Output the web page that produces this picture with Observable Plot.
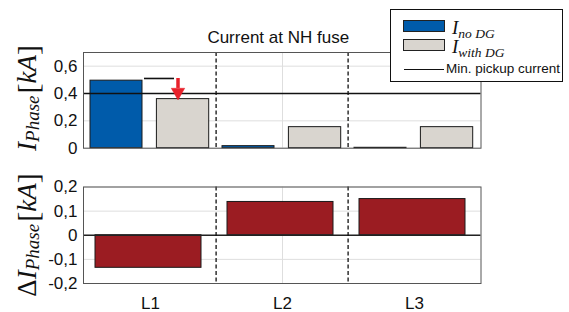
<!DOCTYPE html>
<html>
<head>
<meta charset="utf-8">
<script src="https://cdn.jsdelivr.net/npm/d3@7"></script>
<script src="https://cdn.jsdelivr.net/npm/@observablehq/plot@0.6"></script>
<style>
  body { margin: 0; background: #fff; }
  #wrap { position: relative; width: 569px; height: 312px; overflow: hidden; font-family: "Liberation Sans", Arial, sans-serif; }
  #legend { position: absolute; left: 390px; top: 9px; width: 173px; height: 73px; box-sizing: border-box; border: 1px solid #111; background: #fff; }
  .sw { position: absolute; left: 12px; width: 42px; height: 12px; box-sizing: border-box; border: 1px solid #222; }
  .lt { position: absolute; left: 61px; font-family: "Liberation Serif", "DejaVu Serif", serif; font-style: italic; font-size: 19px; line-height: 19px; color: #111; white-space: nowrap; }
  .lt sub { font-size: 13.5px; vertical-align: -4px; }
  .ln { position: absolute; left: 13px; top: 59px; width: 40px; height: 0; border-top: 1.6px solid #111; }
  .lm { position: absolute; left: 55px; top: 51px; font-size: 13.5px; color: #111; white-space: nowrap; }
</style>
</head>
<body>
<div id="wrap">
  <div id="topPanel"></div>
  <div id="bottomPanel"></div>
  <div id="legend">
    <div class="sw" style="top:10px; background:#005baa;"></div>
    <div class="lt" style="top:8px;">I<sub>no DG</sub></div>
    <div class="sw" style="top:29px; background:#d9d5cf;"></div>
    <div class="lt" style="top:27px;">I<sub>with DG</sub></div>
    <div class="ln"></div>
    <div class="lm">Min. pickup current</div>
  </div>
</div>
<script>
const phases = ["L1", "L2", "L3"];
const currentNoDG = [0.494, 0.015, 0.003];
const currentWithDG = [0.359, 0.154, 0.154];
const deltaCurrent = [-0.135, 0.138, 0.150];
const minPickup = 0.4;
const markerLevel = [0.51];          // short black marker above L1 (with DG)
const arrowFrom = 0.51, arrowHeadStart = 0.437, arrowHeadCenter = 0.41;
const topTicks = [0, 0.2, 0.4, 0.6];
const bottomTicks = [-0.2, -0.1, 0, 0.1, 0.2];
const chartTitle = "Current at NH fuse";

const blue = "#005baa", grey = "#d9d5cf", dark = "#9b1c22", red = "#e8212b";
const gridColor = "#dedede";
const fmt = d => d === 0 ? "0" : d.toFixed(1).replace(".", ",");

const noTable = phases.map((p, i) => ({phase: p, value: currentNoDG[i]}));
const withTable = phases.map((p, i) => ({phase: p, value: currentWithDG[i]}));
const deltaTable = phases.map((p, i) => ({phase: p, value: deltaCurrent[i]}));

const ML = 83, MR = 88.5;
const FS = 17;
const sepStyle = {dx: -66.4, stroke: "#111", strokeWidth: 1.3, strokeDasharray: "4,2.5"};
const font = {fontFamily: "'Liberation Sans', Arial, sans-serif", fontSize: FS + "px", color: "#111", background: "#fff"};

const topChart = Plot.plot({
  width: 569, height: 160,
  marginLeft: ML, marginRight: MR, marginTop: 52, marginBottom: 12.3,
  style: font,
  x: {domain: phases, padding: 0, axis: null},
  y: {domain: [0, 0.7], axis: null},
  marks: [
    Plot.ruleY(topTicks, {stroke: gridColor}),
    Plot.ruleX(["L2"], {stroke: gridColor}),
    Plot.barY(noTable, {x: "phase", y: "value", fill: blue, stroke: "#1a1a1a", strokeWidth: 1, insetLeft: 6, insetRight: 74}),
    Plot.barY(withTable, {x: "phase", y: "value", fill: grey, stroke: "#1a1a1a", strokeWidth: 1, insetLeft: 72.4, insetRight: 7.3}),
    Plot.ruleY([minPickup], {stroke: "#111", strokeWidth: 1.6}),
    Plot.tickY(markerLevel.map(v => ({phase: "L1", value: v})), {x: "phase", y: "value", stroke: "#111", strokeWidth: 1.6, insetLeft: 60, insetRight: 42}),
    Plot.ruleX([{phase: "L1", y1: arrowFrom, y2: arrowHeadStart}], {x: "phase", y1: "y1", y2: "y2", dx: 27.5, stroke: red, strokeWidth: 3.5}),
    Plot.dot([{phase: "L1", y: arrowHeadCenter}], {x: "phase", y: "y", dx: 27.5, symbol: "triangle", rotate: 180, r: 5, fill: red, stroke: red, strokeWidth: 0.5}),
    Plot.ruleX(["L2", "L3"], sepStyle),
    Plot.frame({stroke: "#555"}),
    Plot.axisY({ticks: topTicks, tickSize: 0, tickPadding: 6, tickFormat: fmt, fontSize: FS, label: null}),
    Plot.text([chartTitle], {frameAnchor: "top", lineAnchor: "middle", dy: -15, dx: -4, fontSize: FS, fill: "#111"})
  ]
});

const bottomChart = Plot.plot({
  width: 569, height: 152,
  marginLeft: ML, marginRight: MR, marginTop: 26.5, marginBottom: 29,
  style: font,
  x: {domain: phases, padding: 0, axis: null},
  y: {domain: [-0.2, 0.2], axis: null},
  marks: [
    Plot.ruleY(bottomTicks, {stroke: gridColor}),
    Plot.ruleX(["L2"], {stroke: gridColor}),
    Plot.barY(deltaTable, {x: "phase", y: "value", fill: dark, stroke: "#1a1a1a", strokeWidth: 1, insetLeft: 11, insetRight: 15}),
    Plot.ruleY([0], {stroke: "#222", strokeWidth: 1.3}),
    Plot.ruleX(["L2", "L3"], sepStyle),
    Plot.frame({stroke: "#555"}),
    Plot.axisY({ticks: bottomTicks, tickSize: 0, tickPadding: 6, tickFormat: fmt, fontSize: FS, label: null}),
    Plot.axisX({tickSize: 0, tickPadding: 13, fontSize: FS, label: null})
  ]
});

function addLabel(svg, cx, cy, delta) {
  const t = d3.select(svg).append("text")
    .attr("transform", `translate(${cx},${cy}) rotate(-90)`)
    .attr("text-anchor", "middle")
    .attr("dominant-baseline", "central")
    .attr("font-family", "'Liberation Serif', 'DejaVu Serif', serif")
    .attr("font-size", 27)
    .attr("fill", "#111");
  if (delta) t.append("tspan").attr("font-style", "normal").text("Δ");
  t.append("tspan").attr("font-style", "italic").text("I");
  t.append("tspan").attr("font-style", "italic").attr("font-size", 19).attr("dy", 5).text("Phase");
  t.append("tspan").attr("dy", -5).attr("font-size", 30).attr("dx", 2).text("[");
  t.append("tspan").attr("font-style", "italic").text("kA");
  t.append("tspan").attr("font-size", 30).text("]");
}
addLabel(topChart, 27, 98, false);
addLabel(bottomChart, 27, 75, true);

document.getElementById("topPanel").append(topChart);
document.getElementById("bottomPanel").append(bottomChart);
</script>
</body>
</html>
